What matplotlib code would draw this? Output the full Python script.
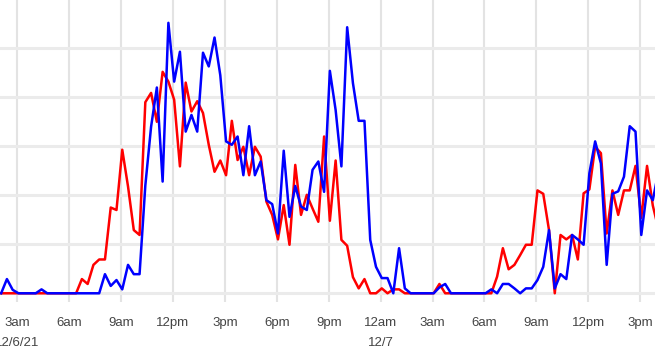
import numpy as np
import pandas as pd
import matplotlib
matplotlib.use('Agg')
import matplotlib.pyplot as plt
import matplotlib.dates as mdates

# values every 20 minutes starting 12/6/21 02:04
start = '2021-12-06 02:04'
red_vals = [
    0, 0, 0, 0, 0, 0, 0, 0, 0, 0,
    0, 0, 0, 0, 0.29, 0.19, 0.58, 0.69, 0.69, 1.75,
    1.70, 2.93, 2.18, 1.29, 1.19, 3.90, 4.09, 3.50, 4.52, 4.32,
    3.95, 2.59, 4.30, 3.71, 3.92, 3.68, 3.03, 2.48, 2.71, 2.41,
    3.52, 2.72, 2.99, 2.41, 2.99, 2.79, 1.87, 1.60, 1.10, 1.80,
    0.99, 2.62, 1.60, 2.01, 1.73, 1.46, 3.20, 1.48, 2.71, 1.09,
    0.97, 0.33, 0.10, 0.29, 0, 0, 0.10, 0, 0.08, 0.08,
    0, 0, 0, 0, 0, 0, 0.19, 0, 0, 0,
    0, 0, 0, 0, 0, 0, 0.34, 0.92, 0.49, 0.58,
    0.78, 0.99, 0.99, 2.10, 2.03, 1.29, 0, 1.19, 1.10, 1.19,
    0.69, 2.04, 2.12, 2.99, 2.86, 1.22, 2.10, 1.60, 2.10, 2.10,
    2.60, 1.54, 2.60, 1.79, 1.30,
]
blue_vals = [
    0, 0.29, 0.07, 0, 0, 0, 0, 0.08, 0, 0,
    0, 0, 0, 0, 0, 0, 0, 0, 0.39, 0.15,
    0.27, 0.08, 0.58, 0.39, 0.39, 2.20, 3.40, 4.20, 2.28, 5.52,
    4.32, 4.93, 3.30, 3.64, 3.30, 4.91, 4.63, 5.22, 4.45, 3.10,
    3.03, 3.20, 2.41, 3.41, 2.41, 2.69, 1.90, 1.82, 1.22, 2.91,
    1.56, 2.19, 1.77, 1.70, 2.52, 2.69, 2.07, 4.54, 3.74, 2.59,
    5.43, 4.29, 3.52, 3.52, 1.09, 0.54, 0.31, 0.31, 0, 0.92,
    0.10, 0, 0, 0, 0, 0, 0.12, 0.19, 0, 0,
    0, 0, 0, 0, 0, 0.08, 0, 0.19, 0.19, 0.10,
    0, 0.10, 0.10, 0.27, 0.54, 1.29, 0.10, 0.39, 0.29, 1.19,
    1.10, 0.99, 2.45, 3.10, 2.65, 0.58, 2.03, 2.08, 2.38, 3.41,
    3.30, 1.19, 2.10, 1.90, 2.50,
]
date_labels = [('2021-12-06 03:00', '12/6/21'), ('2021-12-07 00:00', '12/7')]

times = pd.date_range(start, periods=len(red_vals), freq='20min')

plt.rcParams['font.family'] = ['Liberation Sans Narrow', 'Liberation Sans', 'DejaVu Sans']

fig = plt.figure(figsize=(6.55, 3.52), dpi=100)
ax = fig.add_axes([0, 50 / 352, 1, 302 / 352])

ax.plot(times, red_vals, color='#ff0000', lw=1.8, zorder=3)
ax.plot(times, blue_vals, color='#0000ff', lw=1.8, zorder=4)

ax.set_xlim(pd.Timestamp('2021-12-06 02:00'), pd.Timestamp('2021-12-06 00:00') + pd.Timedelta(hours=39.86))
ax.set_ylim(-0.178, 5.986)

ax.set_yticks(range(0, 6))
ax.set_yticklabels([])
ax.xaxis.set_major_locator(mdates.HourLocator(byhour=range(0, 24, 3)))

def fmt(x, pos=None):
    d = mdates.num2date(x)
    h = d.hour % 12 or 12
    return '%d%s' % (h, 'am' if d.hour < 12 else 'pm')

ax.xaxis.set_major_formatter(plt.FuncFormatter(fmt))
ax.tick_params(length=0, pad=11, labelsize=9.5, labelcolor='#444444')

ax.grid(axis='y', color='#ebebeb', lw=2.2)
ax.grid(axis='x', color='#e3e3e3', lw=1.5)
ax.set_axisbelow(True)
for s in ax.spines.values():
    s.set_visible(False)

for t, lab in date_labels:
    ax.text(pd.Timestamp(t), -41 / 302, lab, transform=ax.get_xaxis_transform(),
            ha='center', va='center', fontsize=9.5, color='#444444', clip_on=False)

fig.savefig('out.png', dpi=100)
